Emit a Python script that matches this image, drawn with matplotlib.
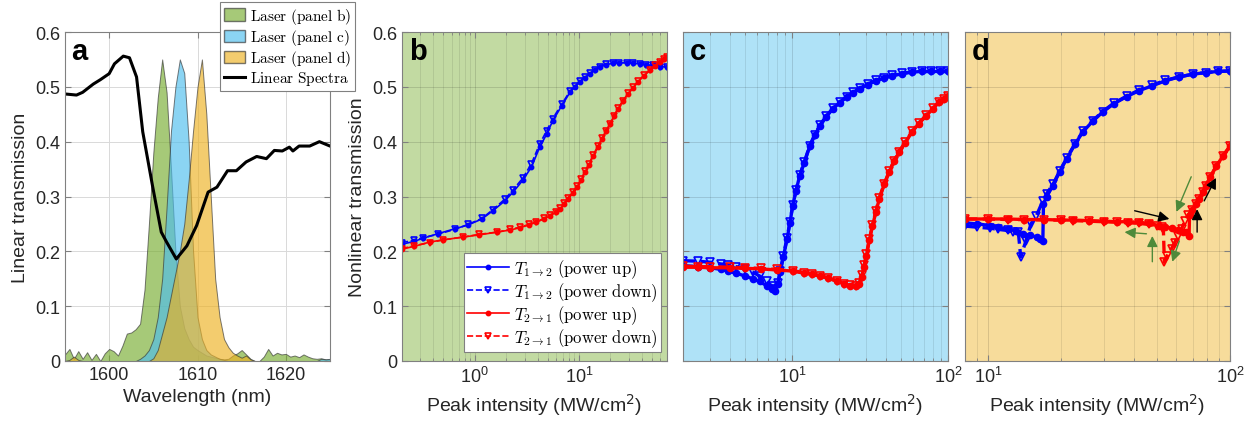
import numpy as np
import matplotlib
matplotlib.use('Agg')
from matplotlib import pyplot as plt
from matplotlib.patches import Patch
from matplotlib.lines import Line2D
from matplotlib.font_manager import FontProperties
from matplotlib.ticker import LogLocator, NullFormatter

plt.rcParams['font.family'] = ['Liberation Sans', 'DejaVu Sans']

# ---- panel a: linear spectrum and laser spectra ----
spec_wl = [1595.0, 1596.3, 1597.0, 1598.2, 1599.0, 1600.0, 1600.6, 1601.6, 1602.3, 1603.1,
           1603.8, 1604.9, 1605.9, 1606.5, 1607.6, 1608.8, 1609.9, 1611.2, 1612.2, 1613.4,
           1614.4, 1615.5, 1616.7, 1617.8, 1618.7, 1619.6, 1620.4, 1620.8, 1621.5, 1622.7,
           1623.8, 1625.0]
spec_T = [0.487, 0.485, 0.490, 0.505, 0.513, 0.524, 0.542, 0.556, 0.553, 0.518,
          0.418, 0.320, 0.235, 0.217, 0.186, 0.210, 0.247, 0.308, 0.317, 0.347,
          0.347, 0.363, 0.373, 0.369, 0.384, 0.383, 0.390, 0.383, 0.392, 0.392,
          0.400, 0.392]

laser_wl = [1595.0, 1595.5, 1596.0, 1596.5, 1597.0, 1597.5, 1598.0, 1598.5, 1599.0, 1599.5,
            1600.0, 1600.5, 1601.0, 1601.5, 1602.0, 1602.5, 1603.0, 1603.5, 1604.0, 1604.5,
            1605.0, 1605.5, 1606.0, 1606.5, 1607.0, 1607.5, 1608.0, 1608.5, 1609.0, 1609.5,
            1610.0, 1610.5, 1611.0, 1611.5, 1612.0, 1612.5, 1613.0, 1613.5, 1614.0, 1614.5,
            1615.0, 1615.5, 1616.0, 1616.5, 1617.0, 1617.5, 1618.0, 1618.5, 1619.0, 1619.5,
            1620.0, 1620.5, 1621.0, 1621.5, 1622.0, 1622.5, 1623.0, 1623.5, 1624.0, 1624.5,
            1625.0]
laser_b = [0.012, 0.022, 0.004, 0.018, 0.004, 0.016, 0.002, 0.013, 0.000, 0.014,
           0.022, 0.018, 0.010, 0.028, 0.050, 0.052, 0.058, 0.068, 0.130, 0.250,
           0.380, 0.480, 0.550, 0.490, 0.350, 0.200, 0.100, 0.060, 0.040, 0.026,
           0.020, 0.015, 0.010, 0.008, 0.006, 0.004, 0.003, 0.004, 0.010, 0.014,
           0.020, 0.012, 0.004, 0.000, 0.000, 0.008, 0.022, 0.010, 0.015, 0.012,
           0.013, 0.008, 0.010, 0.007, 0.012, 0.008, 0.005, 0.004, 0.005, 0.003,
           0.003]
laser_c = [0.000, 0.000, 0.000, 0.000, 0.000, 0.000, 0.000, 0.000, 0.000, 0.000,
           0.000, 0.000, 0.000, 0.000, 0.000, 0.000, 0.000, 0.004, 0.010, 0.020,
           0.040, 0.080, 0.150, 0.280, 0.420, 0.500, 0.550, 0.525, 0.400, 0.200,
           0.080, 0.040, 0.020, 0.012, 0.008, 0.004, 0.002, 0.000, 0.000, 0.000,
           0.000, 0.000, 0.000, 0.000, 0.000, 0.000, 0.000, 0.000, 0.000, 0.000,
           0.000, 0.000, 0.000, 0.000, 0.000, 0.000, 0.000, 0.000, 0.004, 0.003,
           0.004]
laser_d = [0.000, 0.002, 0.008, 0.002, 0.000, 0.000, 0.000, 0.000, 0.000, 0.000,
           0.000, 0.000, 0.000, 0.000, 0.000, 0.000, 0.000, 0.000, 0.000, 0.000,
           0.005, 0.020, 0.050, 0.080, 0.120, 0.160, 0.200, 0.250, 0.330, 0.420,
           0.500, 0.550, 0.450, 0.300, 0.150, 0.080, 0.040, 0.025, 0.015, 0.010,
           0.006, 0.010, 0.003, 0.000, 0.000, 0.000, 0.000, 0.000, 0.000, 0.000,
           0.000, 0.000, 0.000, 0.000, 0.000, 0.000, 0.000, 0.000, 0.000, 0.000,
           0.000]

# ---- panel b ----
b_I12 = [0.2, 0.26, 0.32, 0.44, 0.64, 0.86, 1.17, 1.49, 1.94, 2.33, 2.9, 3.5, 4.2, 4.9,
         5.6, 6.8, 8.2, 9.2, 10.2, 11.4, 12.8, 14.2, 15.9, 18, 21, 24, 29, 33, 38.6, 44,
         51, 60, 70]
b_T12_up = [0.213, 0.218, 0.224, 0.232, 0.241, 0.248, 0.259, 0.274, 0.292, 0.308, 0.330,
            0.354, 0.390, 0.414, 0.438, 0.465, 0.490, 0.500, 0.509, 0.517, 0.524, 0.530,
            0.536, 0.540, 0.543, 0.544, 0.544, 0.543, 0.542, 0.540, 0.539, 0.537, 0.536]
b_T12_down = [0.216, 0.220, 0.225, 0.231, 0.240, 0.249, 0.260, 0.276, 0.295, 0.312, 0.334,
              0.360, 0.396, 0.420, 0.442, 0.468, 0.492, 0.502, 0.510, 0.518, 0.525, 0.531,
              0.537, 0.541, 0.543, 0.544, 0.544, 0.543, 0.542, 0.540, 0.539, 0.537, 0.536]
b_I21 = [0.2, 0.26, 0.37, 0.5, 0.77, 1.1, 1.63, 2.2, 2.7, 3.3, 3.9, 4.6, 5.3, 6.0, 6.6,
         7.2, 7.8, 8.7, 9.6, 10.5, 11.4, 12.5, 13.7, 15.2, 16.7, 18.2, 19.9, 21.7, 23.7,
         26.5, 29.6, 33, 36.8, 42, 48, 54, 60, 65, 70]
b_T21_up = [0.204, 0.209, 0.217, 0.221, 0.226, 0.230, 0.235, 0.239, 0.243, 0.248, 0.253,
            0.259, 0.265, 0.271, 0.277, 0.286, 0.295, 0.306, 0.317, 0.330, 0.344, 0.358,
            0.374, 0.390, 0.405, 0.419, 0.432, 0.446, 0.460, 0.474, 0.487, 0.498, 0.509,
            0.520, 0.530, 0.538, 0.545, 0.550, 0.554]
b_T21_down = [0.205, 0.210, 0.216, 0.221, 0.226, 0.231, 0.235, 0.240, 0.244, 0.249, 0.254,
              0.260, 0.266, 0.272, 0.279, 0.288, 0.297, 0.308, 0.319, 0.332, 0.346, 0.360,
              0.376, 0.392, 0.407, 0.420, 0.433, 0.447, 0.461, 0.475, 0.488, 0.499, 0.510,
              0.521, 0.531, 0.539, 0.546, 0.551, 0.555]

# ---- panel c ----
c_I12 = [2.0, 2.5, 3.0, 3.5, 3.86, 4.4, 5.0, 5.6, 6.2, 6.9, 7.4, 7.8, 8.1, 8.4, 8.8, 9.3,
         9.7, 10.1, 10.6, 11.2, 12, 13, 14, 15.1, 16.5, 18.3, 20.2, 22.4, 24.7, 27.1, 30.5,
         34.7, 39, 44, 51, 59, 68, 78, 89, 100]
c_T12_up = [0.174, 0.172, 0.170, 0.167, 0.164, 0.160, 0.155, 0.150, 0.145, 0.137, 0.132,
            0.128, 0.140, 0.162, 0.190, 0.223, 0.252, 0.283, 0.310, 0.338, 0.362, 0.392,
            0.412, 0.429, 0.445, 0.460, 0.471, 0.481, 0.489, 0.496, 0.504, 0.511, 0.516,
            0.520, 0.524, 0.527, 0.528, 0.528, 0.528, 0.528]
c_T12_down = [0.183, 0.182, 0.180, 0.177, 0.175, 0.172, 0.168, 0.162, 0.155, 0.145, 0.137,
              0.131, 0.142, 0.164, 0.192, 0.225, 0.254, 0.284, 0.311, 0.339, 0.363, 0.393,
              0.413, 0.430, 0.446, 0.461, 0.472, 0.482, 0.490, 0.497, 0.505, 0.512, 0.517,
              0.521, 0.525, 0.527, 0.528, 0.528, 0.528, 0.528]
c_I21 = [2.0, 2.5, 3.0, 4.0, 5.0, 6.3, 8, 10.1, 12, 13.5, 15.1, 17, 19.3, 21.5, 23.4, 25.9,
         27, 27.9, 29, 30, 31.3, 32.8, 34.5, 36.3, 39, 42, 45, 48.7, 53, 59, 65, 72.4, 80,
         87.6, 94, 100]
c_T21_up = [0.171, 0.171, 0.170, 0.170, 0.169, 0.168, 0.166, 0.164, 0.160, 0.158, 0.155,
            0.151, 0.146, 0.141, 0.137, 0.136, 0.140, 0.153, 0.172, 0.192, 0.220, 0.246,
            0.272, 0.296, 0.322, 0.345, 0.364, 0.381, 0.398, 0.418, 0.433, 0.447, 0.460,
            0.472, 0.478, 0.484]
c_T21_down = [0.173, 0.172, 0.172, 0.171, 0.170, 0.169, 0.167, 0.165, 0.161, 0.158, 0.155,
              0.151, 0.146, 0.141, 0.138, 0.137, 0.142, 0.156, 0.175, 0.195, 0.222, 0.248,
              0.274, 0.298, 0.323, 0.346, 0.365, 0.382, 0.399, 0.419, 0.434, 0.448, 0.461,
              0.472, 0.478, 0.484]

# ---- panel d ----
d_I12_up = [8.0, 9.0, 10.2, 11.0, 12.0, 13.0, 13.9, 14.9, 15.9, 16.4, 16.8, 16.9, 17.4,
            18.5, 19.7, 21.1, 22.8, 24.6, 27, 29.7, 33, 37.3, 42, 47.7, 54, 61.5, 70, 79.5,
            89, 100]
d_T12_up = [0.252, 0.250, 0.247, 0.244, 0.241, 0.237, 0.232, 0.229, 0.226, 0.222, 0.219,
            0.286, 0.300, 0.320, 0.345, 0.369, 0.395, 0.418, 0.437, 0.454, 0.469, 0.482,
            0.493, 0.502, 0.511, 0.518, 0.523, 0.526, 0.528, 0.529]
d_I12_down = [8.0, 9.0, 10.2, 11.0, 12.0, 12.7, 13.3, 13.6, 14.3, 15.0, 15.8, 16.8, 17.4,
              18.5, 19.7, 21.1, 22.8, 24.6, 27, 29.7, 33, 37.3, 42, 47.7, 54, 61.5, 70,
              79.5, 89, 100]
d_T12_down = [0.246, 0.244, 0.242, 0.240, 0.238, 0.236, 0.235, 0.190, 0.219, 0.250, 0.265,
              0.292, 0.305, 0.322, 0.346, 0.370, 0.396, 0.419, 0.438, 0.455, 0.470, 0.483,
              0.494, 0.503, 0.512, 0.518, 0.523, 0.526, 0.528, 0.529]
d_I21_up = [8.0, 10, 12, 14, 17, 20, 22.4, 26, 30, 34, 38, 42.2, 46, 51, 54, 57.6, 61, 64,
            65.9, 67.7, 68.0, 69.6, 72, 74.5, 77, 79.5, 83, 87.6, 93.6, 100]
d_T21_up = [0.259, 0.259, 0.259, 0.258, 0.258, 0.257, 0.257, 0.256, 0.255, 0.254, 0.254,
            0.253, 0.251, 0.247, 0.245, 0.242, 0.239, 0.236, 0.235, 0.228, 0.266, 0.275,
            0.286, 0.296, 0.308, 0.320, 0.336, 0.355, 0.374, 0.392]
d_I21_down = [8.0, 10, 12, 14, 17, 20, 22.4, 26, 30, 34, 38, 42.2, 46, 50, 52.5, 53.0, 53.5,
              55, 57.3, 59, 61, 63, 65, 67, 69.6, 72, 74.5, 77, 79.5, 83, 87.6, 93.6, 100]
d_T21_down = [0.259, 0.259, 0.258, 0.258, 0.257, 0.257, 0.256, 0.255, 0.254, 0.253, 0.252,
              0.251, 0.249, 0.247, 0.245, 0.240, 0.180, 0.192, 0.205, 0.216, 0.228, 0.241,
              0.255, 0.266, 0.275, 0.286, 0.296, 0.308, 0.320, 0.336, 0.355, 0.374, 0.392]

# arrows in panel d: (start I, start T, end I, end T, colour)
d_arrows = [(40.3, 0.274, 56.1, 0.259, 'k'),
            (73.1, 0.235, 73.1, 0.277, 'k'),
            (78.2, 0.292, 87.5, 0.334, 'k'),
            (69.1, 0.336, 60.0, 0.272, 'g'),
            (61.7, 0.219, 57.7, 0.181, 'g'),
            (47.7, 0.181, 47.7, 0.228, 'g'),
            (45.1, 0.232, 36.6, 0.235, 'g')]

GREEN = '#77AC30'
CYAN = '#4DBEEE'
ORANGE = '#EDB120'
TXT = '#262626'
SPINE = '#808080'


def tint(c, a):
    rgb = np.array(matplotlib.colors.to_rgb(c))
    return tuple(rgb * a + (1 - a))


W, H = 1256, 427
fig = plt.figure(figsize=(W / 100, H / 100), dpi=100)


def add_ax(left):
    return fig.add_axes([left / W, (H - 362) / H, 265 / W, 329 / H])


def style(ax):
    for s in ax.spines.values():
        s.set_color(SPINE)
        s.set_linewidth(0.8)
    ax.tick_params(which='both', direction='in', top=True, right=True,
                   colors=SPINE, labelcolor=TXT, labelsize=13)
    ax.tick_params(which='major', length=4)
    ax.tick_params(which='minor', length=2)
    ax.set_ylim(0, 0.6)
    ax.set_yticks([0, 0.1, 0.2, 0.3, 0.4, 0.5, 0.6])
    ax.set_yticklabels(['0', '0.1', '0.2', '0.3', '0.4', '0.5', '0.6'])


def letter(ax, s):
    ax.text(0.025, 0.985, s, transform=ax.transAxes, fontsize=21, fontweight='bold',
            va='top', ha='left', color='k')


# panel a
axa = add_ax(65)
style(axa)
axa.set_xlim(1595, 1625)
axa.set_xticks([1600, 1610, 1620])
axa.grid(True, color='0.85', lw=0.7)
axa.set_axisbelow(True)
for y, c in [(laser_b, GREEN), (laser_c, CYAN), (laser_d, ORANGE)]:
    axa.fill_between(laser_wl, 0, y, facecolor=c, alpha=0.65, edgecolor='#333333', lw=0.7)
axa.plot(spec_wl, spec_T, color='k', lw=2.2)
axa.set_xlabel('Wavelength (nm)', fontsize=14, color=TXT)
axa.set_ylabel('Linear transmission', fontsize=14, color=TXT)
letter(axa, 'a')
hs = [Patch(facecolor=GREEN, alpha=0.65, edgecolor='#333333'),
      Patch(facecolor=CYAN, alpha=0.65, edgecolor='#333333'),
      Patch(facecolor=ORANGE, alpha=0.65, edgecolor='#333333'),
      Line2D([], [], color='k', lw=2.2)]
ls = [r'$\mathrm{Laser\ (panel\ b)}$', r'$\mathrm{Laser\ (panel\ c)}$',
      r'$\mathrm{Laser\ (panel\ d)}$', r'$\mathrm{Linear\ Spectra}$']
lg = axa.legend(hs, ls, loc='upper right', bbox_to_anchor=(355 / W, 1 - 3 / H),
                bbox_transform=fig.transFigure,
                prop=FontProperties(size=11, math_fontfamily='cm'), fancybox=False,
                framealpha=1, edgecolor='0.5', handlelength=1.4, handleheight=0.85,
                handletextpad=0.3, borderpad=0.25, labelspacing=0.08, borderaxespad=0)
lg.get_frame().set_linewidth(0.8)
lg.set_zorder(10)


def panel(left, bg, xlim, xt, data, lw, ms_o, ms_v):
    ax = add_ax(left)
    style(ax)
    ax.set_facecolor(tint(bg, 0.45))
    ax.set_xscale('log')
    ax.set_xlim(*xlim)
    ax.set_xticks(xt)
    ax.xaxis.set_minor_locator(LogLocator(base=10, subs=np.arange(2, 10)))
    ax.xaxis.set_minor_formatter(NullFormatter())
    ax.grid(True, which='major', color='k', alpha=0.15, lw=0.6)
    ax.grid(True, which='minor', axis='x', color='k', alpha=0.12, lw=0.5)
    ax.set_axisbelow(True)
    (I12u, T12u), (I12d, T12d), (I21u, T21u), (I21d, T21d) = data
    ax.plot(I12u, T12u, '-', color='b', marker='o', ms=ms_o, lw=lw,
            label=r'$T_{1\rightarrow 2}\ \mathrm{(power\ up)}$')
    ax.plot(I12d, T12d, '--', color='b', marker='v', ms=ms_v, mfc='none', mew=1.2, lw=lw,
            label=r'$T_{1\rightarrow 2}\ \mathrm{(power\ down)}$')
    ax.plot(I21u, T21u, '-', color='r', marker='o', ms=ms_o, lw=lw,
            label=r'$T_{2\rightarrow 1}\ \mathrm{(power\ up)}$')
    ax.plot(I21d, T21d, '--', color='r', marker='v', ms=ms_v, mfc='none', mew=1.2, lw=lw,
            label=r'$T_{2\rightarrow 1}\ \mathrm{(power\ down)}$')
    ax.set_xlabel(r'Peak intensity (MW/cm$^2$)', fontsize=14, color=TXT)
    return ax


axb = panel(402, GREEN, (0.2, 70), [1, 10],
            [(b_I12, b_T12_up), (b_I12, b_T12_down), (b_I21, b_T21_up), (b_I21, b_T21_down)],
            1.2, 3.2, 5)
axb.set_ylabel('Nonlinear transmission', fontsize=14, color=TXT)
letter(axb, 'b')
lb = axb.legend(loc='lower right', bbox_to_anchor=(661 / W, (H - 353) / H),
                bbox_transform=fig.transFigure,
                prop=FontProperties(size=12, math_fontfamily='cm'), fancybox=False,
                framealpha=1, edgecolor='0.5', handlelength=2.5, handletextpad=0.3,
                borderpad=0.2, labelspacing=0.02, borderaxespad=0)
lb.get_frame().set_linewidth(0.8)

axc = panel(683, CYAN, (2, 100), [10, 100],
            [(c_I12, c_T12_up), (c_I12, c_T12_down), (c_I21, c_T21_up), (c_I21, c_T21_down)],
            2.4, 4.5, 6)
axc.set_yticklabels([])
letter(axc, 'c')

axd = panel(965, ORANGE, (8, 100), [10, 100],
            [(d_I12_up, d_T12_up), (d_I12_down, d_T12_down),
             (d_I21_up, d_T21_up), (d_I21_down, d_T21_down)],
            2.4, 4.5, 6)
axd.set_yticklabels([])
letter(axd, 'd')
for x0, y0, x1, y1, c in d_arrows:
    col = 'k' if c == 'k' else '#4E8A3A'
    axd.annotate('', xy=(x1, y1), xytext=(x0, y0),
                 arrowprops=dict(arrowstyle='-|>', color=col, lw=1.0,
                                 mutation_scale=16, shrinkA=0, shrinkB=0))

fig.savefig('out.png', dpi=100)
